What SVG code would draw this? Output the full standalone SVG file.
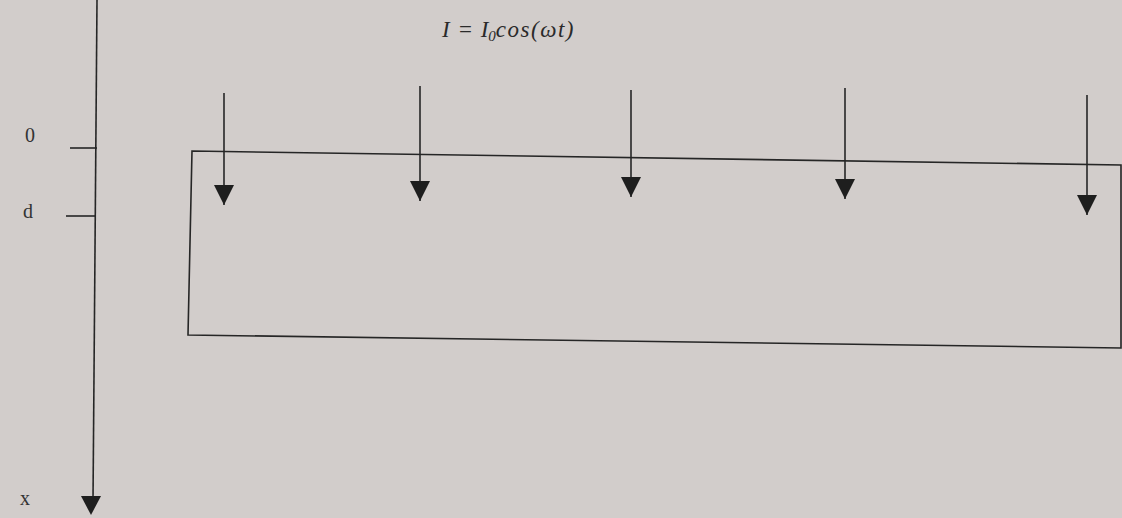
<svg xmlns="http://www.w3.org/2000/svg" width="1122" height="518" viewBox="0 0 1122 518">
<defs>
<marker id="ah" viewBox="0 0 10 10" refX="10" refY="5" markerWidth="20" markerHeight="20" markerUnits="userSpaceOnUse" orient="auto">
<path d="M0,0 L10,5 L0,10 Z" fill="#1e1e1e"/>
</marker>
</defs>
<style>
.ln{stroke:#262626;stroke-width:1.6;fill:none}
.lbl{font-family:"Liberation Serif",serif;font-size:20px;fill:#333}
.eq{font-family:"Liberation Serif",serif;font-style:italic;font-size:23px;fill:#2a2a2a}
</style>
<rect width="1122" height="518" fill="#d2cdcb"/>
<g id="axis">
<line class="ln" x1="97" y1="0" x2="93" y2="500"/>
<path d="M81,496 L101,496 L91,515 Z" fill="#1e1e1e"/>
<line class="ln" x1="70" y1="148" x2="97" y2="148"/>
<line class="ln" x1="66" y1="216" x2="96" y2="216"/>
</g>
<g id="labels">
<text class="lbl" x="25" y="142">0</text>
<text class="lbl" x="23" y="218">d</text>
<text class="lbl" x="20" y="505">x</text>
</g>
<g id="formula">
<text class="eq" x="442" y="37" word-spacing="2">I = I<tspan font-size="15" dy="4">0</tspan><tspan dy="-4" letter-spacing="1.5">cos(ωt)</tspan></text>
</g>
<g id="slab">
<path class="ln" d="M192,151 L1121,165 L1121,348 L188,335 Z"/>
</g>
<g id="arrows">
<line class="ln" x1="224" y1="93" x2="224" y2="205" marker-end="url(#ah)"/>
<line class="ln" x1="420" y1="86" x2="420" y2="201" marker-end="url(#ah)"/>
<line class="ln" x1="631" y1="90" x2="631" y2="197" marker-end="url(#ah)"/>
<line class="ln" x1="845" y1="88" x2="845" y2="199" marker-end="url(#ah)"/>
<line class="ln" x1="1087" y1="95" x2="1087" y2="215" marker-end="url(#ah)"/>
</g>
</svg>
